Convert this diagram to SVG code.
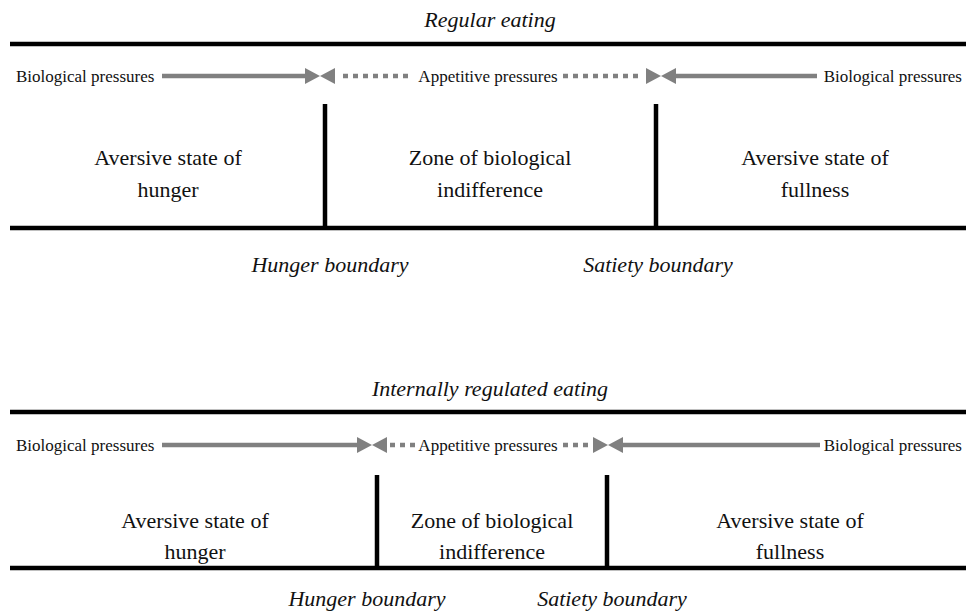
<svg xmlns="http://www.w3.org/2000/svg" width="966" height="614" viewBox="0 0 966 614" font-family="'Liberation Serif', 'Times New Roman', 'DejaVu Serif', serif">
<style>
text{font-family:'Liberation Serif','Times New Roman','DejaVu Serif',serif;fill:#111}
.t{font-size:22px;font-style:italic;text-anchor:middle}
.r{font-size:22px;text-anchor:middle}
.p{font-size:17px}
.bar{stroke:#000;stroke-width:4.5;fill:none}
.div{stroke:#000;stroke-width:4.5}
.sol{stroke:#808080;stroke-width:4.5;fill:none}
.dash{stroke:#808080;stroke-width:4.5;fill:none;stroke-dasharray:5 5}
.head{fill:#808080}
</style>
<rect width="966" height="614" fill="#fff"/>
<g id="regular">
<text class="t" x="490" y="27">Regular eating</text>
<line class="bar" x1="10" y1="44" x2="966" y2="44"/>
<line class="bar" x1="10" y1="228" x2="966" y2="228"/>
<g id="r-hunger-boundary"><line class="div" x1="325" y1="104" x2="325" y2="228"/><text class="t" x="330" y="272">Hunger boundary</text></g>
<g id="r-satiety-boundary"><line class="div" x1="656" y1="104" x2="656" y2="228"/><text class="t" x="658" y="272">Satiety boundary</text></g>
<g id="r-hunger"><text class="r" x="168" y="165">Aversive state of</text><text class="r" x="168" y="197">hunger</text></g>
<g id="r-zone"><text class="r" x="490" y="165">Zone of biological</text><text class="r" x="490" y="197">indifference</text></g>
<g id="r-fullness"><text class="r" x="815" y="165">Aversive state of</text><text class="r" x="815" y="197">fullness</text></g>
<text class="p" x="16" y="82">Biological pressures</text>
<text class="p" x="488" y="82" text-anchor="middle">Appetitive pressures</text>
<text class="p" x="962" y="82" text-anchor="end">Biological pressures</text>
</g>
<g id="internal">
<text class="t" x="490" y="396">Internally regulated eating</text>
<line class="bar" x1="10" y1="412" x2="966" y2="412"/>
<line class="bar" x1="10" y1="568" x2="966" y2="568"/>
<g id="i-hunger-boundary"><line class="div" x1="377" y1="475" x2="377" y2="568"/><text class="t" x="367" y="606">Hunger boundary</text></g>
<g id="i-satiety-boundary"><line class="div" x1="607" y1="475" x2="607" y2="568"/><text class="t" x="612" y="606">Satiety boundary</text></g>
<g id="i-hunger"><text class="r" x="195" y="528">Aversive state of</text><text class="r" x="195" y="559">hunger</text></g>
<g id="i-zone"><text class="r" x="492" y="528">Zone of biological</text><text class="r" x="492" y="559">indifference</text></g>
<g id="i-fullness"><text class="r" x="790" y="528">Aversive state of</text><text class="r" x="790" y="559">fullness</text></g>
<text class="p" x="16" y="451">Biological pressures</text>
<text class="p" x="488" y="451" text-anchor="middle">Appetitive pressures</text>
<text class="p" x="962" y="451" text-anchor="end">Biological pressures</text>
</g>
<g id="connectors">
<line class="sol" x1="162" y1="76" x2="308" y2="76"/>
<polygon class="head" points="320,76 305,68 305,84"/>
<polygon class="head" points="320,76 335,68 335,84"/>
<line class="dash" x1="343" y1="76" x2="413" y2="76"/>
<line class="dash" x1="563" y1="76" x2="643" y2="76"/>
<polygon class="head" points="661,76 646,68 646,84"/>
<polygon class="head" points="661,76 676,68 676,84"/>
<line class="sol" x1="673" y1="76" x2="817" y2="76"/>
<line class="sol" x1="162" y1="445" x2="360" y2="445"/>
<polygon class="head" points="372,445 357,437 357,453"/>
<polygon class="head" points="372,445 387,437 387,453"/>
<line class="dash" x1="390" y1="445" x2="416" y2="445"/>
<line class="dash" x1="563" y1="445" x2="590" y2="445"/>
<polygon class="head" points="608,445 593,437 593,453"/>
<polygon class="head" points="608,445 623,437 623,453"/>
<line class="sol" x1="621" y1="445" x2="820" y2="445"/>
</g>
</svg>
